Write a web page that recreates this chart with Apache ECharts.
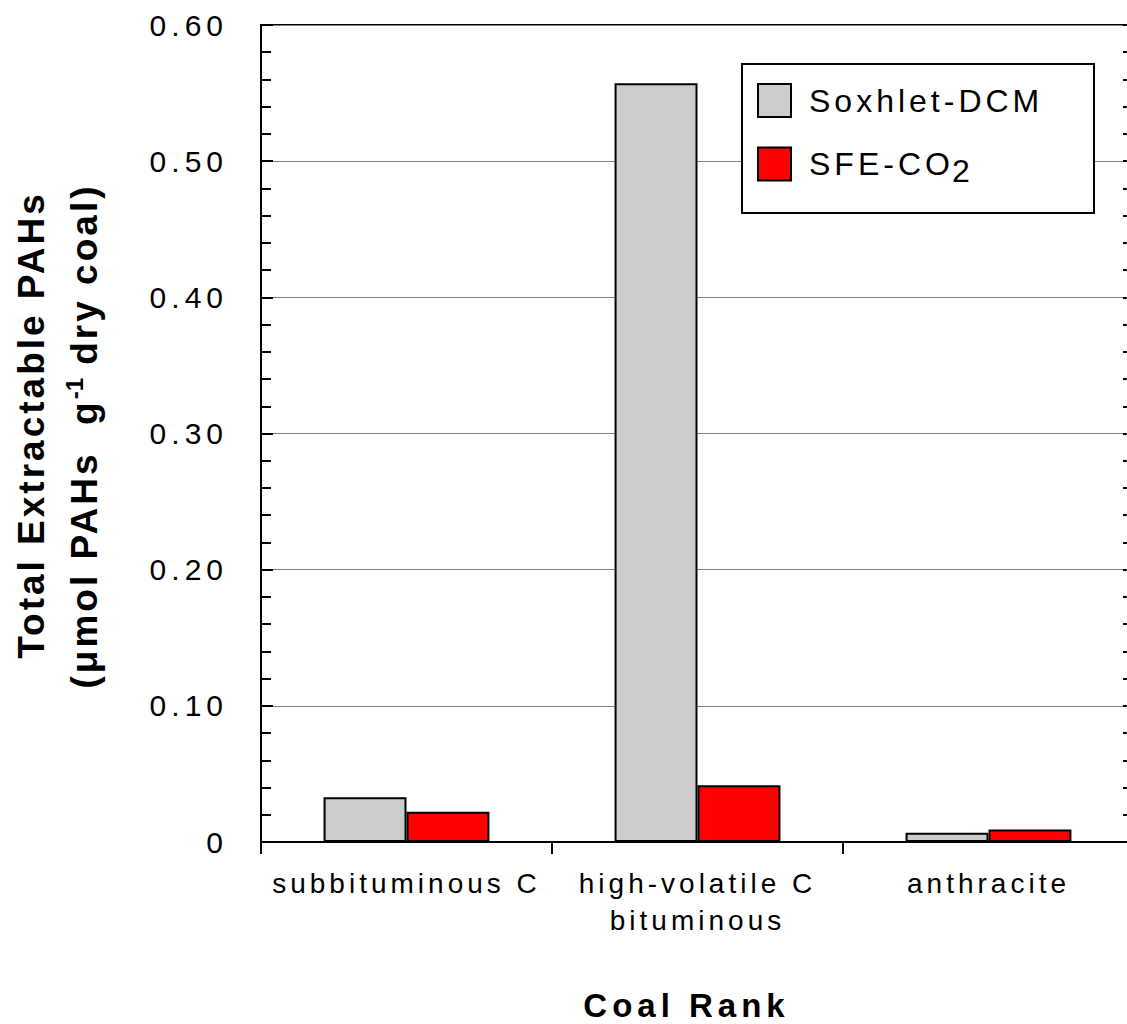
<!DOCTYPE html>
<html>
<head>
<meta charset="utf-8">
<script src="https://cdn.jsdelivr.net/npm/echarts@6/dist/echarts.min.js"></script>
<style>html,body{margin:0;padding:0;background:#fff;}#chart{width:1127px;height:1024px;overflow:hidden;}#chart text{white-space:pre;}</style>
</head>
<body>
<div id="chart"></div>
<script>
const categories = ['subbituminous C', 'high-volatile C\nbituminous', 'anthracite'];
const soxhletDCM = [0.0329, 0.5572, 0.0068];
const sfeCO2 = [0.0222, 0.0417, 0.0092];
const seriesNames = ['Soxhlet-DCM', 'SFE-CO2'];
const yTicks = { min: 0, max: 0.6, interval: 0.1 };
const xTitle = 'Coal Rank';
const yTitle1 = 'Total Extractable PAHs';

const FONT = 'Liberation Sans, Arial, Helvetica, sans-serif';
const chart = echarts.init(document.getElementById('chart'), null, { renderer: 'svg' });

const option = {
  backgroundColor: '#fff',
  animation: false,
  grid: {
    left: 261, top: 25, width: 873, bottom: 182,
    outerBoundsMode: 'none', containLabel: false,
    show: true, borderColor: '#000', borderWidth: 2, backgroundColor: 'transparent'
  },
  legend: {
    orient: 'vertical', left: 757, top: 83, z: 5,
    itemWidth: 33, itemHeight: 33, itemGap: 23, padding: 0,
    icon: 'rect',
    data: seriesNames,
    formatter: function (n) {
      if (n === 'SFE-CO2') return '{a|SFE-CO}{b|2}';
      return '{a|' + n + '}';
    },
    textStyle: {
      fontFamily: FONT, color: '#000', padding: [0, 0, 0, 13],
      rich: {
        a: { fontSize: 32, fontFamily: FONT, color: '#000', lineHeight: 47 },
        b: { fontSize: 32, fontFamily: FONT, color: '#000', lineHeight: 33, padding: [14, 0, 0, 22] }
      }
    }
  },
  graphic: [
    {
      type: 'rect', z: 3,
      shape: { x: 742, y: 64, width: 352, height: 149 },
      style: { fill: '#fff', stroke: '#000', lineWidth: 2 }
    },
    {
      type: 'text', z: 5,
      x: 31, y: 425, rotation: Math.PI / 2,
      style: {
        text: yTitle1, fontFamily: FONT, fontSize: 37, fontWeight: 'bold',
        fill: '#000', align: 'center', verticalAlign: 'middle'
      }
    },
    {
      type: 'text', z: 5,
      x: 84, y: 436, rotation: Math.PI / 2,
      style: {
        text: '{n1|(\u03bcmol PAHs  g}{s|-1}{n2| dry coal)}',
        fill: '#000', align: 'center', verticalAlign: 'middle',
        rich: {
          n1: { fontFamily: FONT, fontSize: 37, fontWeight: 'bold', fill: '#000', lineHeight: 44, padding: [0, 19.5, 0, 19.5] },
          s: { fontFamily: FONT, fontSize: 24, fontWeight: 'bold', fill: '#000', lineHeight: 20, verticalAlign: 'top' },
          n2: { fontFamily: FONT, fontSize: 37, fontWeight: 'bold', fill: '#000', lineHeight: 44, padding: [0, 15, 0, 15] }
        }
      }
    }
  ],
  xAxis: {
    type: 'category',
    data: categories,
    name: xTitle,
    nameLocation: 'middle',
    nameGap: 147,
    nameTextStyle: { fontFamily: FONT, fontSize: 33, fontWeight: 'bold', color: '#000', padding: [0, 22, 0, 0] },
    axisLine: { show: true, lineStyle: { color: '#000', width: 2 } },
    axisTick: { show: true, inside: false, length: 12, lineStyle: { color: '#000', width: 2 } },
    axisLabel: { fontFamily: FONT, fontSize: 28, color: '#000', margin: 23, lineHeight: 37, interval: 0 },
    splitLine: { show: false }
  },
  yAxis: [
    {
      type: 'value', min: yTicks.min, max: yTicks.max, interval: yTicks.interval,
      position: 'left',
      axisLine: { show: true, lineStyle: { color: '#000', width: 2 } },
      axisTick: { show: true, inside: true, length: 12, lineStyle: { color: '#000', width: 2 } },
      minorTick: { show: true, splitNumber: 5, length: 10, lineStyle: { color: '#000', width: 2 } },
      axisLabel: {
        fontFamily: FONT, fontSize: 30, color: '#000', margin: 33,
        formatter: function (v) { return v === 0 ? '0' : v.toFixed(2); }
      },
      splitLine: { show: true, lineStyle: { color: '#808080', width: 1 } },
      minorSplitLine: { show: false }
    },
    {
      type: 'value', min: yTicks.min, max: yTicks.max, interval: yTicks.interval,
      position: 'right',
      axisLine: { show: true, lineStyle: { color: '#000', width: 2 } },
      axisTick: { show: true, inside: true, length: 11, lineStyle: { color: '#000', width: 2 } },
      minorTick: { show: true, splitNumber: 5, length: 11, lineStyle: { color: '#000', width: 2 } },
      axisLabel: { show: false },
      splitLine: { show: false }
    }
  ],
  series: [
    {
      name: seriesNames[0], type: 'bar', data: soxhletDCM,
      barGap: '0%', barCategoryGap: '43%',
      itemStyle: { color: '#cccccc', borderColor: '#000', borderWidth: 2 }
    },
    {
      name: seriesNames[1], type: 'bar', data: sfeCO2,
      barGap: '0%', barCategoryGap: '43%',
      itemStyle: { color: '#ff0000', borderColor: '#000', borderWidth: 2 }
    }
  ]
};
chart.setOption(option);

// the original figure's text is set with wide tracking
const spacingBySize = { 30: 5, 28: 4, 32: 4, 37: 3, 33: 5 };
function applySpacing() {
  document.querySelectorAll('#chart text').forEach(function (t) {
    const fs = Math.round(parseFloat(getComputedStyle(t).fontSize));
    const sp = spacingBySize[fs];
    if (sp) t.style.letterSpacing = sp + 'px';
  });
}
applySpacing();
chart.on('finished', applySpacing);
</script>
</body>
</html>
